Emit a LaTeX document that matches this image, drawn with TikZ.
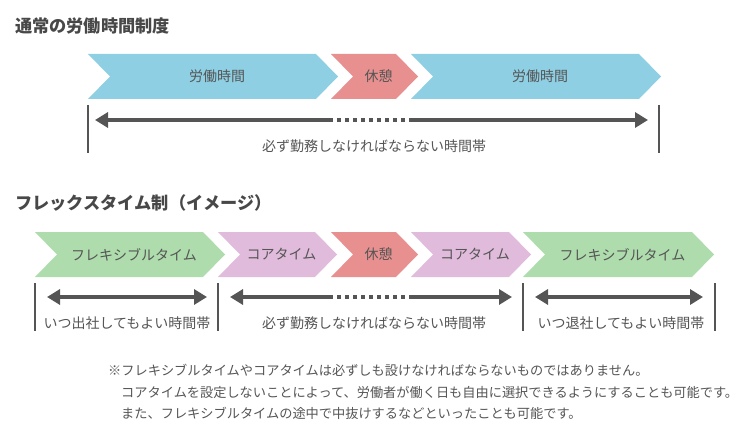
\documentclass[tikz,border=0pt]{standalone}
\usepackage{fontspec}
\setmainfont{Noto Sans CJK JP}
\usetikzlibrary{arrows.meta}

\definecolor{workblue}{HTML}{8ECFE3}
\definecolor{restred}{HTML}{E88F8F}
\definecolor{flexgreen}{HTML}{AEDCAD}
\definecolor{corepurple}{HTML}{E1BBDB}
\definecolor{textgray}{HTML}{555555}

% 矢羽根形の帯: 名前, 左端x, 先端x, 上端y, 色, 文字
\newcommand{\chevron}[6]{%
  \fill[#5] (#2,#4) -- (#3-22,#4) -- (#3,#4+22.5) -- (#3-22,#4+45)
    -- (#2,#4+45) -- (#2+22,#4+22.5) -- cycle;
  \node[band label] (#1) at ({(#2+#3)/2+4},#4+22.5) {#6};}

\begin{document}
\begin{tikzpicture}[x=1pt, y=-1pt, font=\fontsize{14}{16}\selectfont, text=textgray]
  % スタイル
  \tikzstyle{band label}=[inner sep=0pt]
  \tikzstyle{title}=[anchor=west, inner sep=0pt, font=\fontsize{17.2}{19}\selectfont\bfseries, text=textgray!85!black]
  \tikzstyle{bar}=[draw=textgray, line width=2pt]
  \tikzstyle{span line}=[draw=textgray, line width=4pt]
  \tikzstyle{dots}=[draw=textgray, line width=4pt, dash pattern=on 4pt off 4pt]
  \tikzstyle{note}=[anchor=west, inner sep=0pt, font=\fontsize{13.2}{15}\selectfont]
  \tikzset{tip/.tip={Triangle[length=13pt, width=15pt]}}

  \useasboundingbox (0,0) rectangle (750,425);

  % 通常の労働時間制度
  \node[title] (title1) at (15,26) {通常の労働時間制度};

  \chevron{work1}{88}{338}{54}{workblue}{労働時間}
  \chevron{rest1}{331}{418}{54}{restred}{休憩}
  \chevron{work2}{411}{661}{54}{workblue}{労働時間}

  \coordinate (t bar1 top) at (88,105);  \coordinate (t bar1 bot) at (88,153);
  \coordinate (t bar2 top) at (659,105); \coordinate (t bar2 bot) at (659,153);
  \draw[bar] (t bar1 top) -- (t bar1 bot);
  \draw[bar] (t bar2 top) -- (t bar2 bot);

  \coordinate (t left) at (95,120);
  \coordinate (t dots a) at (333,120);
  \coordinate (t dots b) at (409,120);
  \coordinate (t right) at (648,120);
  \draw[span line, {tip}-] (t left) -- (t dots a);
  \draw[dots] ([xshift=4pt]t dots a) -- ([xshift=-4pt]t dots b);
  \draw[span line, -{tip}] (t dots b) -- (t right);
  \node (t must) at (374,146) {必ず勤務しなければならない時間帯};

  % フレックスタイム制
  \node[title] (title2) at (15,203) {フレックスタイム制（イメージ）};

  \chevron{flex1}{35}{225}{232}{flexgreen}{フレキシブルタイム}
  \chevron{core1}{218}{337}{232}{corepurple}{コアタイム}
  \chevron{rest2}{331}{418}{232}{restred}{休憩}
  \chevron{core2}{411}{531}{232}{corepurple}{コアタイム}
  \chevron{flex2}{523}{714}{232}{flexgreen}{フレキシブルタイム}

  \foreach \bx [count=\i] in {35,218,523,715}{
    \coordinate (b bar\i top) at (\bx,283);
    \coordinate (b bar\i bot) at (\bx,331);
    \draw[bar] (b bar\i top) -- (b bar\i bot);
  }

  \coordinate (in left) at (47,297);   \coordinate (in right) at (207,297);
  \coordinate (core left) at (230,297);
  \coordinate (b dots a) at (333,297); \coordinate (b dots b) at (409,297);
  \coordinate (core right) at (512,297);
  \coordinate (out left) at (535,297); \coordinate (out right) at (703,297);
  \draw[span line, {tip}-{tip}] (in left) -- (in right);
  \draw[span line, {tip}-] (core left) -- (b dots a);
  \draw[dots] ([xshift=4pt]b dots a) -- ([xshift=-4pt]b dots b);
  \draw[span line, -{tip}] (b dots b) -- (core right);
  \draw[span line, {tip}-{tip}] (out left) -- (out right);

  \node (come any) at (127,323) {いつ出社してもよい時間帯};
  \node (b must) at (374,323) {必ず勤務しなければならない時間帯};
  \node (leave any) at (621,323) {いつ退社してもよい時間帯};

  % 注記
  \node[note] (note1) at (108,370) {※フレキシブルタイムやコアタイムは必ずしも設けなければならないものではありません。};
  \node[note] (note2) at (121,392) {コアタイムを設定しないことによって、労働者が働く日も自由に選択できるようにすることも可能です。};
  \node[note] (note3) at (121,413) {また、フレキシブルタイムの途中で中抜けするなどといったことも可能です。};
\end{tikzpicture}
\end{document}
